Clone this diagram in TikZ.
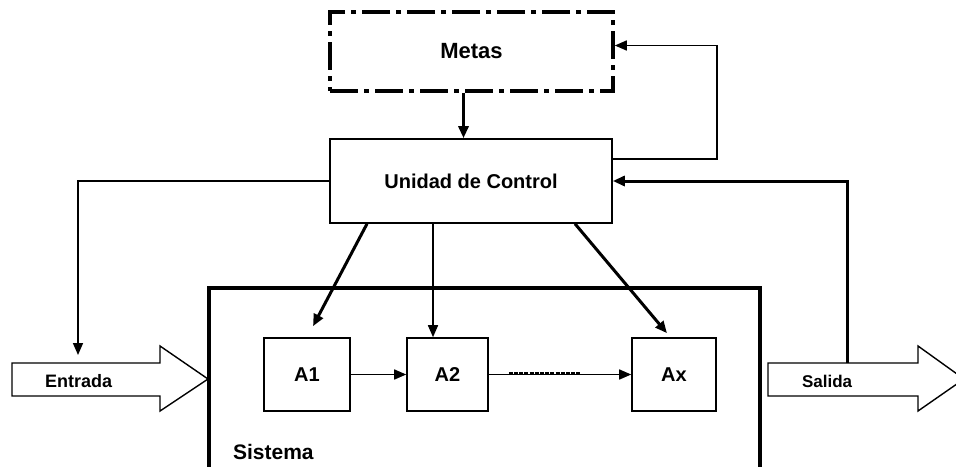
\documentclass[tikz,border=0pt]{standalone}
\usepackage{fontspec}
\setmainfont{Liberation Sans}
\usetikzlibrary{arrows.meta,positioning}

\begin{document}
\begin{tikzpicture}[
        x=0.5pt, y=-0.5pt,
        font=\fontsize{10}{12}\selectfont\bfseries,
        caja/.style={draw=black, line width=0.8pt, inner sep=0pt},
        flecha/.style={-{Triangle[length=6pt,width=5pt]}, line width=0.8pt},
        flechagruesa/.style={flecha, line width=1.5pt},
        grande/.style={draw=black, line width=0.7pt, fill=white}
    ]
        \useasboundingbox (0,0) rectangle (956,466);

        % Metas
        \node[caja, line width=1.8pt, dash pattern=on 14pt off 3pt on 2.5pt off 3pt,
            minimum width=141.5pt, minimum height=39.5pt,
            font=\fontsize{11}{13}\selectfont\bfseries]
            (metas) at (471.5,51.5) {Metas};

        % Unidad de Control
        \node[caja, minimum width=141pt, minimum height=42pt]
            (control) at (471,181) {Unidad de Control};

        % Sistema (abierto por abajo)
        \draw[line width=1.6pt] (209,480) -- (209,288) -- (760,288) -- (760,480);
        \node[anchor=west, font=\fontsize{10.5}{12}\selectfont\bfseries]
            (sistema) at (226,452) {Sistema};

        % Elementos
        \node[caja, minimum width=43pt, minimum height=36.5pt] (a1) at (307,374.5) {A1};
        \node[caja, minimum width=40.5pt, minimum height=36.5pt] (a2) at (447.5,374.5) {A2};
        \node[caja, minimum width=42pt, minimum height=36.5pt] (ax) at (674,374.5) {Ax};

        % Entrada y Salida
        \draw[grande] (12,363) -- (160,363) -- (160,346) -- (208,379)
            -- (160,411) -- (160,396) -- (12,396) -- cycle;
        \node[anchor=west, font=\fontsize{9}{11}\selectfont\bfseries]
            (entrada) at (38,381) {Entrada};
        \coordinate (entradaTop) at (78,355);

        \draw[grande] (768,363) -- (918,363) -- (918,346) -- (964,379)
            -- (918,411) -- (918,396) -- (768,396) -- cycle;
        \node[anchor=west, font=\fontsize{8.5}{11}\selectfont\bfseries]
            (salida) at (795,381) {Salida};
        \coordinate (salidaTop) at (847,363);

        % Conexiones
        \draw[flechagruesa] ([xshift=-4pt]metas.south) -- ([xshift=-4pt]metas.south |- control.north);
        \draw[flecha] ([yshift=11pt]control.east) -- ++(104,0) |- ([yshift=3pt]metas.east);
        \draw[flechagruesa] (salidaTop) |- (control.east);
        \draw[flecha] (control.west) -| (entradaTop);

        \draw[flechagruesa] ([xshift=-52pt]control.south)
            -- ([xshift=3pt,yshift=5.5pt]a1.north);
        \draw[flecha] ([xshift=-19pt]control.south)
            -- ([xshift=-19pt]control.south |- a2.north);
        \draw[flechagruesa] ([xshift=52pt]control.south)
            -- ([xshift=-3.5pt,yshift=2pt]ax.north);

        \draw[flecha] (a1) -- (a2);
        \draw[flecha] (a2) -- (ax);
        \draw[line width=1.2pt, dash pattern=on 2pt off 0.6pt]
            ([xshift=10pt,yshift=0.6pt]a2.east) -- ([xshift=-25pt,yshift=0.6pt]ax.west);

    \end{tikzpicture}
\end{document}
